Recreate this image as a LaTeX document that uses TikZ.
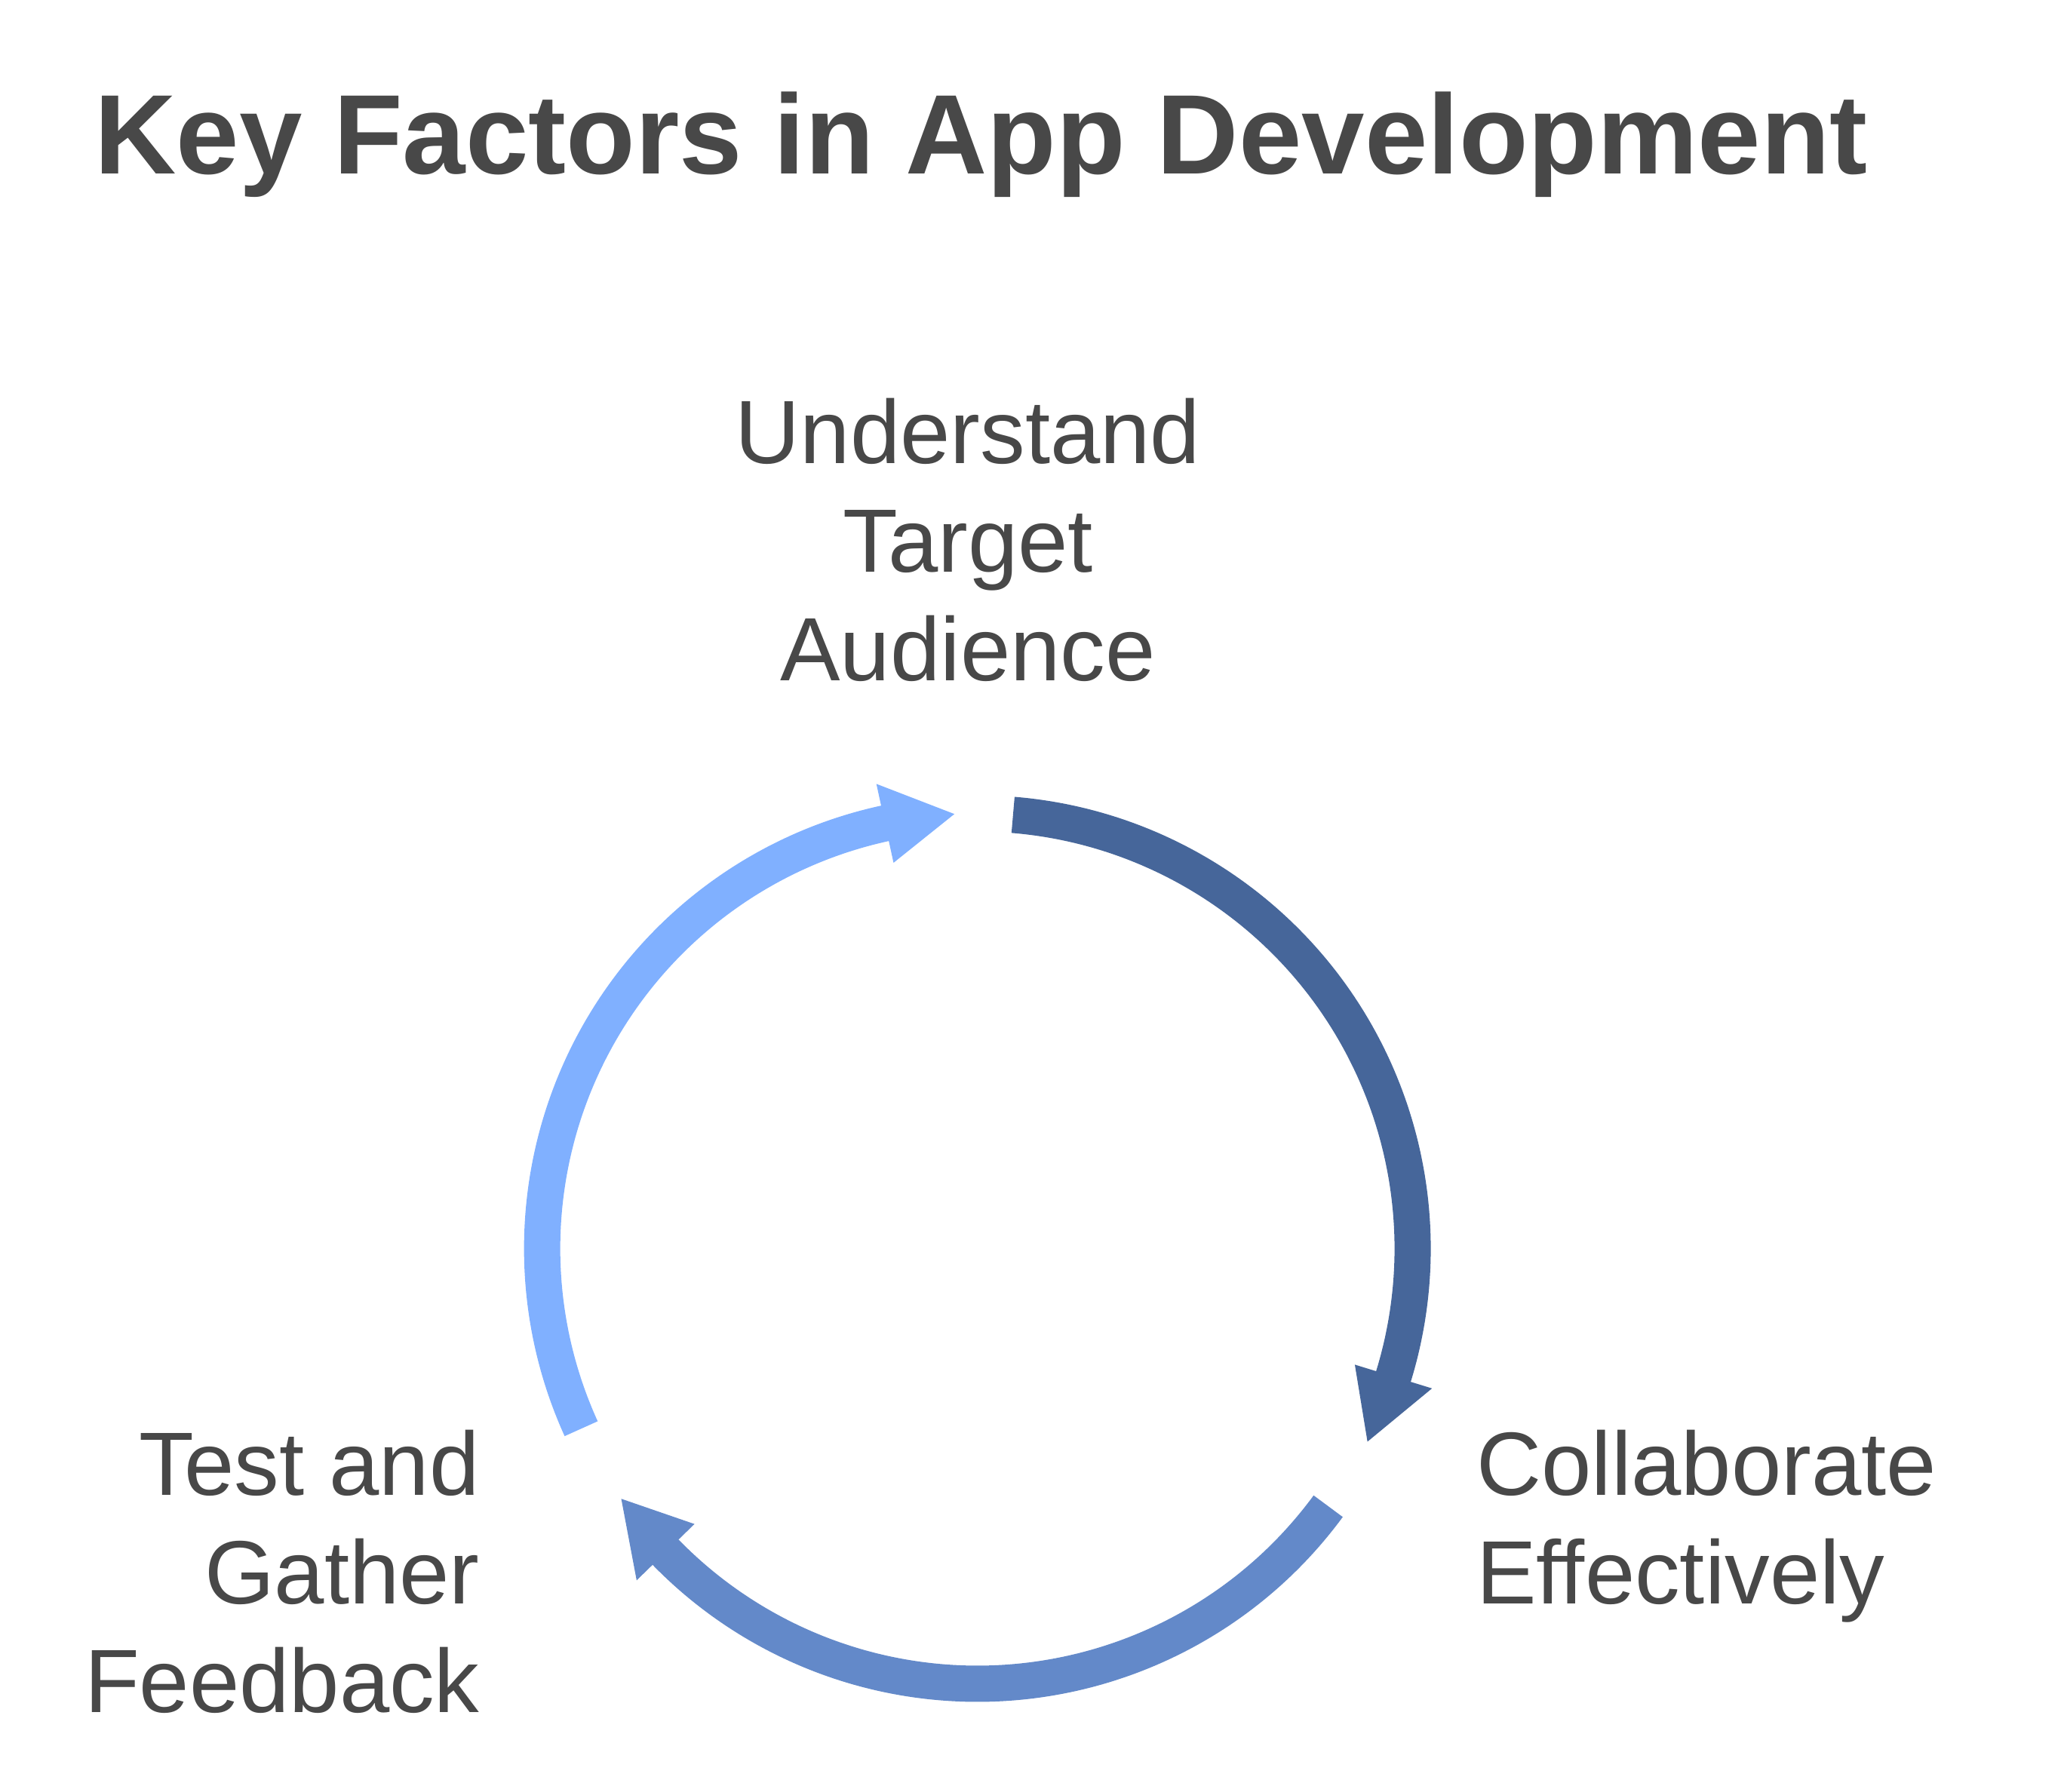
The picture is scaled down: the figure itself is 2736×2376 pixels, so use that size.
\documentclass[tikz,border=0pt]{standalone}
\usepackage{fontspec}
\setmainfont{Liberation Sans}
\usetikzlibrary{calc}
\definecolor{txtgray}{HTML}{484848}
\definecolor{darkarc}{HTML}{46669A}
\definecolor{midarc}{HTML}{6389C9}
\definecolor{lightarc}{HTML}{80B0FF}
% #1 colour, #2 start angle, #3 base angle of head, #4 tip angle
\newcommand\cycarrow[4]{%
  \draw[shaft,#1] ($(c)+(#2:\R)$) arc[start angle=#2, end angle=#3-0.8, radius=\R];
  \fill[#1] ($(c)+(#3:\R+53.5)$) -- ($(c)+(#4:\R)$) -- ($(c)+(#3:\R-53.5)$) -- cycle;
}
\begin{document}
\begin{tikzpicture}[x=0.5pt,y=0.5pt,
  lbl/.style={inner sep=0pt, text=txtgray, font=\fontsize{59.6}{72}\selectfont},
  ttl/.style={inner sep=0pt, text=txtgray, font=\fontsize{75}{90}\selectfont\bfseries},
  shaft/.style={line width=24pt, line cap=butt}]
\useasboundingbox (0,0) rectangle (2736,2376);
\fill[white] (0,0) rectangle (2736,2376);
\def\R{577}
\coordinate (c) at (1295.6,720.5);

% title
\node[ttl, anchor=base west] (title) at (125,2145) {Key Factors in App Development};

% arcs
\cycarrow{darkarc}{85.3}{-17.1}{-26.34}
\cycarrow{midarc}{-36.3}{-135.76}{-144.9}
\cycarrow{lightarc}{204.45}{102.26}{93.03}

% labels
\node[lbl, anchor=base] (u1) at (1283,1761) {Understand};
\node[lbl, anchor=base] (u2) at (1283,1617.5) {Target};
\node[lbl, anchor=base] (u3) at (1283,1473.3) {Audience};

\node[lbl, anchor=base west] (c1) at (1957,393.3) {Collaborate};
\node[lbl, anchor=base west] (c2) at (1957,249.3) {Effectively};

\node[lbl, anchor=base east] (t1) at (636,393.3) {Test and};
\node[lbl, anchor=base east] (t2) at (636,249.3) {Gather};
\node[lbl, anchor=base east] (t3) at (636,105.3) {Feedback};
\end{tikzpicture}
\end{document}
